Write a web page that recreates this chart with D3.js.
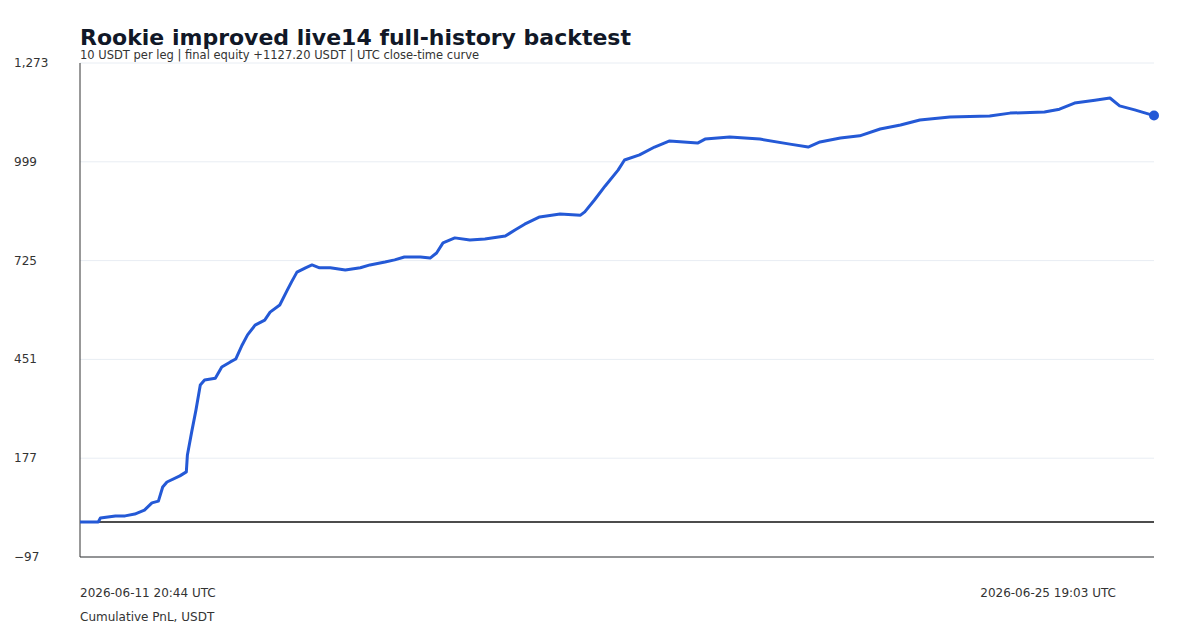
<!DOCTYPE html>
<html><head><meta charset="utf-8">
<script src="https://cdn.jsdelivr.net/npm/d3@7"></script>
<style>body{margin:0;background:#fff;font-family:"DejaVu Sans",sans-serif;}</style>
</head><body><svg id="c" width="1200" height="633"></svg>
<script>
const startLabel = "2026-06-11 20:44 UTC";
const endLabel = "2026-06-25 19:03 UTC";
const yTicks = [-97, 177, 451, 725, 999, 1273];
// progress through the backtest (0..1) and cumulative PnL
const progress = [0,0.017,0.019,0.033,0.042,0.051,0.06,0.067,0.073,0.077,0.081,0.093,0.099,0.1,0.104,0.108,0.112,0.116,0.126,0.132,0.14,0.145,0.151,0.156,0.163,0.172,0.177,0.186,0.193,0.197,0.202,0.21,0.216,0.223,0.233,0.247,0.261,0.27,0.284,0.293,0.302,0.317,0.326,0.332,0.338,0.349,0.363,0.377,0.396,0.405,0.414,0.428,0.447,0.466,0.47,0.479,0.489,0.501,0.507,0.521,0.535,0.549,0.575,0.582,0.605,0.633,0.661,0.678,0.689,0.708,0.726,0.745,0.764,0.782,0.81,0.847,0.866,0.898,0.912,0.926,0.945,0.959,0.968,0.982,1];
const pnl = [0,0,11,17,17,22,33,53,58,97,111,128,139,186,250,311,380,394,399,430,444,452,491,519,546,560,582,602,643,666,693,705,713,705,705,699,705,713,721,727,735,735,732,746,774,788,782,785,793,810,826,846,854,851,860,893,932,976,1004,1018,1040,1057,1051,1062,1068,1062,1048,1040,1054,1065,1071,1090,1101,1115,1123,1126,1134,1137,1145,1162,1170,1176,1154,1143,1127.2];

const svg = d3.select("#c");
const L=80,R=1154,T=63,B=557;
const x = d3.scaleLinear().domain([0,1]).range([L,R]);
const y = d3.scaleLinear().domain([-97,1273]).range([B,T]);

svg.append("g").selectAll("line").data(yTicks).join("line")
  .attr("x1",L).attr("x2",R).attr("y1",d=>y(d)).attr("y2",d=>y(d))
  .attr("stroke","#e8edf3").attr("stroke-width",1);
svg.append("g").selectAll("text").data(yTicks).join("text")
  .attr("x",14).attr("y",d=>y(d)+4).attr("font-size",12).attr("fill","#333")
  .text(d=>d3.format(",")(d));
svg.append("line").attr("x1",L).attr("x2",R).attr("y1",y(0)).attr("y2",y(0)).attr("stroke","#111").attr("stroke-width",1.3);
svg.append("line").attr("x1",L).attr("x2",L).attr("y1",T).attr("y2",B).attr("stroke","#333");
svg.append("line").attr("x1",L).attr("x2",R).attr("y1",B).attr("y2",B).attr("stroke","#333");

const line = d3.line().x((d,i)=>x(progress[i])).y(d=>y(d)).curve(d3.curveLinear);
svg.append("path").datum(pnl).attr("d",line).attr("fill","none")
  .attr("stroke","#2459d6").attr("stroke-width",3).attr("stroke-linejoin","round");
svg.append("circle").attr("cx",x(1)).attr("cy",y(pnl[pnl.length-1])).attr("r",5).attr("fill","#2459d6");

svg.append("text").attr("x",80).attr("y",45).attr("font-size",22).attr("font-weight","bold").attr("fill","#111827")
  .text("Rookie improved live14 full-history backtest");
svg.append("text").attr("x",80).attr("y",59).attr("font-size",11.5).attr("fill","#333")
  .text("10 USDT per leg | final equity +1127.20 USDT | UTC close-time curve");
svg.append("text").attr("x",x(0)).attr("y",597).attr("font-size",12).attr("fill","#333").text(startLabel);
svg.append("text").attr("x",1116).attr("y",597).attr("font-size",12).attr("fill","#333").attr("text-anchor","end").text(endLabel);
svg.append("text").attr("x",80).attr("y",621).attr("font-size",12).attr("fill","#333").text("Cumulative PnL, USDT");
</script></body></html>
